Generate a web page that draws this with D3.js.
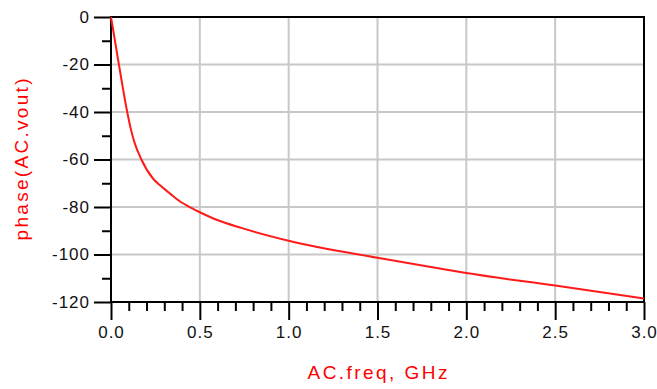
<!DOCTYPE html>
<html>
<head>
<meta charset="utf-8">
<script src="https://cdn.jsdelivr.net/npm/d3@7"></script>
<style>
  body { margin: 0; background: #fff; }
  svg { display: block; }
</style>
</head>
<body>
<div id="chart"></div>
<script>
// frequency in GHz
const freqGHz = [0, 0.04, 0.09, 0.111, 0.133, 0.171, 0.236, 0.283, 0.339, 0.387, 0.452, 0.5, 0.602, 0.733, 1.0, 1.5, 1.85, 2.0, 2.5, 3.0];
// phase(AC.vout) in degrees
const phaseDeg = [0, -18, -39.5, -47, -53, -60, -68, -71.3, -74.8, -77.6, -80.4, -82.2, -85.6, -88.8, -94.2, -101.4, -105.9, -107.8, -113.1, -118.5];

const xMajor = [0, 0.5, 1.0, 1.5, 2.0, 2.5, 3.0];
const yMajor = [0, -20, -40, -60, -80, -100, -120];

const width = 657, height = 389;
const margin = { top: 17, right: 13, bottom: 87, left: 111 };

const svg = d3.select("#chart")
    .append("svg")
    .attr("width", width)
    .attr("height", height);

const x = d3.scaleLinear().domain([0, 3]).range([margin.left, width - margin.right]);
const y = d3.scaleLinear().domain([-120, 0]).range([height - margin.bottom, margin.top]);

const x0 = x(0), x1 = x(3), y0 = y(-120), y1 = y(0);

// grid lines
const grid = svg.append("g").attr("stroke", "#c8c8c8").attr("stroke-width", 2);
grid.selectAll(".gx")
    .data(xMajor.filter(d => d > 0 && d < 3))
    .enter().append("line")
    .attr("x1", d => x(d)).attr("x2", d => x(d))
    .attr("y1", y1).attr("y2", y0);
grid.selectAll(".gy")
    .data(yMajor.filter(d => d < 0 && d > -120))
    .enter().append("line")
    .attr("x1", x0).attr("x2", x1)
    .attr("y1", d => y(d)).attr("y2", d => y(d));

// minor ticks
const xMinor = d3.range(1, 30).map(i => i / 10).filter(d => Math.abs(d * 2 - Math.round(d * 2)) > 1e-6);
const yMinor = d3.range(-110, 0, 20);

svg.append("g")
    .attr("transform", `translate(0,${y0})`)
    .call(d3.axisBottom(x).tickValues(xMinor).tickSize(9).tickFormat(""))
    .call(g => g.select(".domain").remove())
    .selectAll("line").attr("stroke", "#000").attr("stroke-width", 2);

svg.append("g")
    .attr("transform", `translate(${x0},0)`)
    .call(d3.axisLeft(y).tickValues(yMinor).tickSize(9).tickFormat(""))
    .call(g => g.select(".domain").remove())
    .selectAll("line").attr("stroke", "#000").attr("stroke-width", 2);

// major axes
const xAxis = svg.append("g")
    .attr("transform", `translate(0,${y0})`)
    .call(d3.axisBottom(x).tickValues(xMajor).tickSize(18).tickPadding(6).tickFormat(d3.format(".1f")));
const yAxis = svg.append("g")
    .attr("transform", `translate(${x0},0)`)
    .call(d3.axisLeft(y).tickValues(yMajor).tickSize(17).tickPadding(4).tickFormat(d => String(d)));

[xAxis, yAxis].forEach(a => {
    a.select(".domain").remove();
    a.selectAll("line").attr("stroke", "#000").attr("stroke-width", 2);
    a.selectAll("text")
        .attr("fill", "#111")
        .style("font-family", "'Liberation Sans', Arial, sans-serif")
        .style("font-size", "17px")
        .style("letter-spacing", "1px");
});

// frame
svg.append("rect")
    .attr("x", x0).attr("y", y1)
    .attr("width", x1 - x0).attr("height", y0 - y1)
    .attr("fill", "none")
    .attr("stroke", "#000")
    .attr("stroke-width", 2);

// curve
const line = d3.line()
    .x((d, i) => x(freqGHz[i]))
    .y(d => y(d))
    .curve(d3.curveMonotoneX);

svg.append("path")
    .datum(phaseDeg)
    .attr("d", line)
    .attr("fill", "none")
    .attr("stroke", "#ff1a1a")
    .attr("stroke-width", 2);

// axis titles
svg.append("text")
    .attr("x", (x0 + x1) / 2)
    .attr("y", 379)
    .attr("text-anchor", "middle")
    .attr("fill", "#ff0000")
    .attr("textLength", 140)
    .attr("lengthAdjust", "spacing")
    .style("font-family", "'Liberation Sans', Arial, sans-serif")
    .style("font-size", "19px")
    .text("AC.freq, GHz");

svg.append("text")
    .attr("transform", `translate(28,${(y0 + y1) / 2}) rotate(-90)`)
    .attr("text-anchor", "middle")
    .attr("fill", "#ff0000")
    .attr("textLength", 162)
    .attr("lengthAdjust", "spacing")
    .style("font-family", "'Liberation Sans', Arial, sans-serif")
    .style("font-size", "19px")
    .text("phase(AC.vout)");
</script>
</body>
</html>
